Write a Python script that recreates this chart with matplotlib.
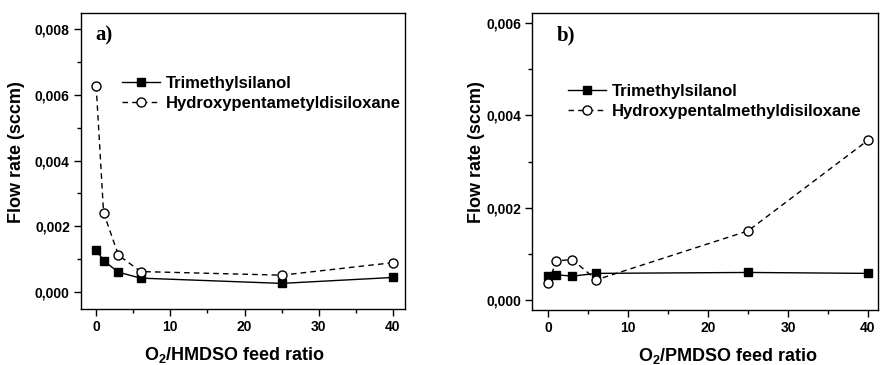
import numpy as np
from matplotlib import pyplot as plt
from matplotlib.ticker import MultipleLocator, FuncFormatter

plt.rcParams['font.family'] = ['Liberation Sans', 'DejaVu Sans']
plt.rcParams['font.weight'] = 'bold'
plt.rcParams['mathtext.fontset'] = 'custom'
plt.rcParams['mathtext.rm'] = 'Liberation Sans:bold'
plt.rcParams['mathtext.bf'] = 'Liberation Sans:bold'
plt.rcParams['mathtext.it'] = 'Liberation Sans:bold'

# panel a) O2/HMDSO
ratio_a = [0, 1, 3, 6, 25, 40]
tms_a = [0.00128, 0.00095, 0.00060, 0.00042, 0.00026, 0.00044]
hyd_a = [0.00627, 0.00241, 0.00112, 0.00062, 0.00051, 0.00089]

# panel b) O2/PMDSO
ratio_b = [0, 1, 3, 6, 25, 40]
tms_b = [0.00053, 0.00055, 0.00052, 0.00058, 0.00060, 0.00058]
hyd_b = [0.00037, 0.00085, 0.00088, 0.00044, 0.00150, 0.00346]

names_a = ["Trimethylsilanol", "Hydroxypentametyldisiloxane"]
names_b = ["Trimethylsilanol", "Hydroxypentalmethyldisiloxane"]

fig = plt.figure(figsize=(8.8, 3.65), dpi=100)
ax1 = fig.add_axes([0.092, 0.1534, 0.368, 0.811])
ax2 = fig.add_axes([0.605, 0.151, 0.393, 0.814])

comma = FuncFormatter(lambda v, p: f"{v:.3f}".replace(".", ","))


def draw(ax, x, y1, y2, names, ylim, ymaj, tag, xlab, leg_xy, ylab_x):
    ax.plot(x, y1, '-', color='black', lw=1.0, marker='s', ms=6,
            mfc='black', mec='black', label=names[0])
    ax.plot(x, y2, '--', color='black', lw=1.0, marker='o', ms=6.5,
            mfc='white', mec='black', mew=1.0, dashes=(4, 3), label=names[1])
    ax.set_xlim(-2.05, 41.6)
    ax.set_ylim(*ylim)
    ax.xaxis.set_major_locator(MultipleLocator(10))
    ax.xaxis.set_minor_locator(MultipleLocator(5))
    ax.yaxis.set_major_locator(MultipleLocator(ymaj))
    ax.yaxis.set_minor_locator(MultipleLocator(ymaj / 2))
    ax.yaxis.set_major_formatter(comma)
    ax.tick_params(which='both', direction='out', top=False, right=False,
                   labelsize=10, width=1.0)
    ax.tick_params(which='major', length=5, pad=3)
    ax.tick_params(which='minor', length=3)
    for lb in ax.get_xticklabels() + ax.get_yticklabels():
        lb.set_fontweight('bold')
    for s in ax.spines.values():
        s.set_linewidth(1.0)
    ax.set_ylabel("Flow rate (sccm)", fontsize=13, fontweight='bold')
    ax.yaxis.set_label_coords(ylab_x, 0.53)
    ax.set_xlabel(xlab, fontsize=13, fontweight='bold')
    ax.text(tag[1], 0.925, tag[0], transform=ax.transAxes, family='Liberation Serif',
            fontsize=15, fontweight='bold', va='center', ha='left')
    ax.legend(loc='center left', bbox_to_anchor=leg_xy, frameon=False,
              borderpad=0, borderaxespad=0, handlelength=2.3,
              handletextpad=0.35, labelspacing=0.3, prop={'weight': 'bold', 'size': 12})


draw(ax1, ratio_a, tms_a, hyd_a, names_a, (-0.00052, 0.00849), 0.002,
     ("a)", 0.043), "O$_2$/HMDSO feed ratio", (0.1265, 0.728), -0.173)
ax1.xaxis.set_label_coords(0.474, -0.12)

draw(ax2, ratio_b, tms_b, hyd_b, names_b, (-0.00021, 0.00622), 0.002,
     ("b)", 0.07), "O$_2$/PMDSO feed ratio", (0.103, 0.702), -0.137)
ax2.set_xlim(-2.0, 41.3)
ax2.xaxis.set_label_coords(0.565, -0.12)

fig.savefig("out.png", dpi=100)
